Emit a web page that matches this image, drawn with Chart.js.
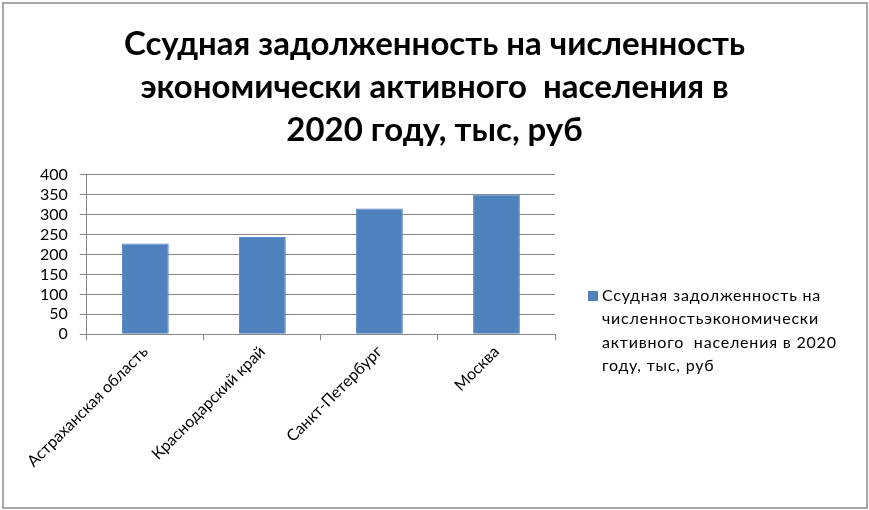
<!DOCTYPE html>
<html>
<head>
<meta charset="utf-8">
<script src="https://cdn.jsdelivr.net/npm/chart.js@4.4.1/dist/chart.umd.min.js"></script>
<style>
  html, body { margin: 0; padding: 0; background: #ffffff; }
  #wrap { width: 869px; height: 510px; position: relative; }
</style>
</head>
<body>
<div id="wrap"><canvas id="chart"></canvas></div>
<script>
// Chart data
const regions = ['Астраханская область', 'Краснодарский край', 'Санкт-Петербург', 'Москва'];
const loanDebt = [228, 244, 316, 351];
const titleLines = ['Ссудная задолженность на численность', 'экономически активного  населения в', '2020 году, тыс, руб'];
const seriesName = 'Ссудная задолженность на численность экономически активного  населения в 2020 году, тыс, руб';
const legendLines = ['Ссудная задолженность на', 'численностьэкономически', 'активного  населения в 2020', 'году, тыс, руб'];

const BAR_COLOR = '#4f81bd';
const GRID_COLOR = '#868686';
const FONT = "Lato, 'Open Sans', sans-serif";

// White background and the thin frame round the whole picture
const framePlugin = {
  id: 'frame',
  beforeDraw(chart) {
    const ctx = chart.ctx;
    ctx.save();
    ctx.fillStyle = '#ffffff';
    ctx.fillRect(0, 0, chart.width, chart.height);
    ctx.strokeStyle = '#a6a6a6';
    ctx.lineWidth = 2;
    ctx.strokeRect(3, 3, chart.width - 5, chart.height - 5);
    ctx.restore();
  }
};

// Wrapped legend on the right (built-in legend cannot wrap text)
const wrappedLegend = {
  id: 'wrappedLegend',
  afterDraw(chart) {
    const ctx = chart.ctx;
    const area = chart.chartArea;
    const x = area.right + 33;
    const y = 296;
    ctx.save();
    ctx.fillStyle = chart.data.datasets[0].backgroundColor;
    ctx.fillRect(x, y - 5, 10, 10);
    ctx.fillStyle = '#000000';
    ctx.font = '16px ' + FONT;
    ctx.letterSpacing = '0.8px';
    ctx.textBaseline = 'middle';
    legendLines.forEach((line, i) => {
      ctx.fillText(line, x + 14, y + i * 23.3);
    });
    ctx.restore();
  }
};

new Chart(document.getElementById('chart'), {
  type: 'bar',
  data: {
    labels: regions,
    datasets: [{
      label: seriesName,
      data: loanDebt,
      backgroundColor: BAR_COLOR,
      borderColor: '#5b8ccb',
      borderWidth: 1,
      categoryPercentage: 1.0,
      barPercentage: 0.4,
      yAxisID: 'y'
    }]
  },
  options: {
    responsive: true,
    maintainAspectRatio: false,
    animation: false,
    devicePixelRatio: 1,
    layout: {
      padding: { left: 0, right: 0, top: 0, bottom: 37 }
    },
    plugins: {
      legend: { display: false },
      tooltip: { enabled: false },
      title: {
        display: true,
        text: titleLines,
        color: '#000000',
        font: { family: FONT, size: 33, weight: 'bold', lineHeight: 1.303 },
        padding: { top: 23, bottom: 23 }
      }
    },
    scales: {
      x: {
        grid: {
          offset: true,
          drawOnChartArea: false,
          drawTicks: true,
          tickLength: 6,
          color: GRID_COLOR
        },
        border: { color: GRID_COLOR },
        ticks: {
          color: '#000000',
          maxRotation: 45,
          minRotation: 45,
          padding: 2,
          font: { family: FONT, size: 16 }
        }
      },
      y: {
        min: 0,
        max: 400,
        grid: { color: GRID_COLOR, tickLength: 7 },
        border: { color: GRID_COLOR },
        ticks: {
          stepSize: 50,
          autoSkip: false,
          color: '#000000',
          padding: 12,
          font: { family: FONT, size: 16 }
        },
        afterFit(scale) { scale.width += 28; }
      },
      spacer: {
        position: 'right',
        display: true,
        grid: { display: false },
        border: { display: false },
        ticks: { display: false },
        afterFit(scale) { scale.width = 314; }
      }
    }
  },
  plugins: [framePlugin, wrappedLegend]
});
</script>
</body>
</html>
